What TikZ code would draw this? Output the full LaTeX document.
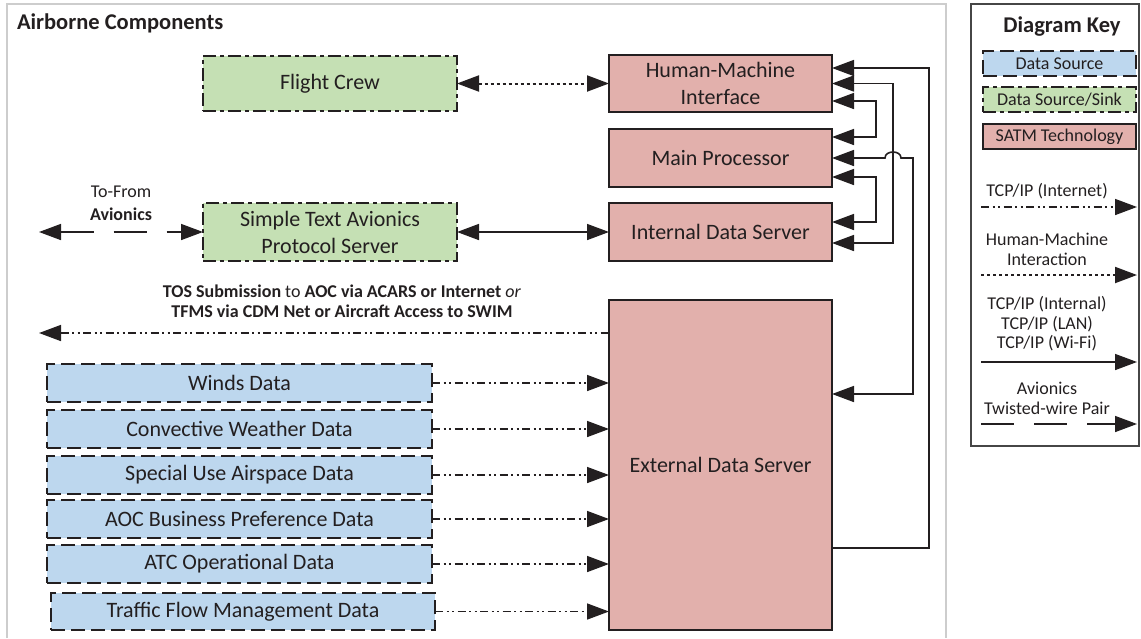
\documentclass[tikz,border=0pt]{standalone}
\usepackage{fontspec}
\setmainfont{Carlito}
\usetikzlibrary{arrows.meta,calc}
\definecolor{srcblue}{RGB}{189,215,238}
\definecolor{sinkgreen}{RGB}{197,224,180}
\definecolor{satmred}{RGB}{226,176,172}
\definecolor{ink}{RGB}{35,31,32}
\definecolor{framegray}{RGB}{205,205,205}
\definecolor{keygray}{RGB}{70,70,70}

\begin{document}
\begin{tikzpicture}[x=1pt,y=-1pt,
  >={Triangle[length=22pt,width=16pt]},
  every node/.style={text=ink, inner sep=0pt, outer sep=0pt},
  big/.style={font=\fontsize{22}{27}\selectfont},
  small/.style={font=\fontsize{18}{20}\selectfont},
  box/.style={draw=ink, line width=2.2pt, align=center, anchor=north west, big},
  satm/.style={box, fill=satmred, line width=2pt},
  srcsink/.style={box, fill=sinkgreen, dash pattern=on 13pt off 4pt on 4pt off 4pt},
  source/.style={box, fill=srcblue, dash pattern=on 14pt off 6pt},
  link/.style={draw=ink, line width=1.6pt},
  inet/.style={link, dash pattern=on 8pt off 3.5pt on 2pt off 3.5pt on 2pt off 3.5pt},
  hmiline/.style={link, line width=2pt, dash pattern=on 3pt off 3pt},
  twisted/.style={link, dash pattern=on 33pt off 20pt},
  keybox/.style={small, line width=1.8pt, minimum width=153pt, minimum height=25pt}
]
\useasboundingbox (0,0) rectangle (1141,638);

% frames
\draw[framegray, line width=1.8pt] (7,638) |- (946,4) -- (946,638);
\draw[keygray, line width=1.4pt] (971,4) rectangle (1139,446);
\node[anchor=west, font=\bfseries\fontsize{22.5}{27}\selectfont] (title) at (17,23) {Airborne Components};
\node[font=\bfseries\fontsize{22.5}{27}\selectfont] (keytitle) at (1062,27) {Diagram Key};

% airborne components
\node[srcsink, minimum width=254pt, minimum height=55pt] (fc) at (203,56) {Flight Crew};
\node[satm, minimum width=223pt, minimum height=57pt] (hmi) at (609,55) {Human-Machine\\Interface};
\node[satm, minimum width=223pt, minimum height=58pt] (mp) at (609,129) {Main Processor};
\node[satm, minimum width=223pt, minimum height=58pt] (ids) at (609,203) {Internal Data Server};
\node[srcsink, minimum width=254pt, minimum height=58pt] (staps) at (203,203) {Simple Text Avionics\\Protocol Server};
\node[satm, minimum width=223pt, minimum height=330pt] (extds) at (609,300) {External Data Server};

\node[source, minimum width=385pt, minimum height=38pt] (winds) at (47,364) {Winds Data};
\node[source, minimum width=385pt, minimum height=38pt] (conv) at (47,410) {Convective Weather Data};
\node[source, minimum width=385pt, minimum height=38pt] (sua) at (47,456) {Special Use Airspace Data};
\node[source, minimum width=385pt, minimum height=38pt] (aoc) at (47,500) {AOC Business Preference Data};
\node[source, minimum width=385pt, minimum height=38pt] (atc) at (47,545) {ATC Operational Data};
\node[source, minimum width=384pt, minimum height=37pt] (tfm) at (51,593) {Traffic Flow Management Data};

% crew and avionics links
\draw[hmiline,<->] (fc.east) -- (hmi.west);
\draw[link,<->] (staps.east) -- (ids.west);
\coordinate (av) at (39,232);
\draw[twisted,<->] (av) -- (staps.west);
\node[small] (avlab1) at (121,192) {To-From};
\node[small, font=\bfseries\fontsize{18}{20}\selectfont] (avlab2) at (121,214) {Avionics};

% TOS submission
\coordinate (tos) at (39,333);
\draw[inet,<-] (tos) -- (extds.west |- tos);
\node[small, align=center, font=\fontsize{18}{20.5}\selectfont] (toslab) at (342,301)
  {\textbf{TOS Submission} to \textbf{AOC via ACARS or Internet} \textit{or}\\
   \textbf{TFMS via CDM Net or Aircraft Access to SWIM}};

% data feeds into the external data server
\foreach \n in {winds,conv,sua,aoc,atc,tfm}
  \draw[inet,->] (\n.east) -- (\n.east -| extds.west);

% internal network on the right
\draw[link,<->] ($(hmi.east)+(0,17.5)$) -- ++(44,0) |- ($(mp.east)+(0,-21)$);
\draw[link,<->] ($(mp.east)+(0,19)$) -- ++(44,0) |- ($(ids.east)+(0,-10)$);
\draw[link,<->] (hmi.east) -- ++(61,0) |- ($(ids.east)+(0,11)$);
\coordinate (hop) at ($(mp.east)+(61,0)$);
\draw[link,<->] (mp.east) -- ($(hop)+(-8,0)$)
  .. controls ($(hop)+(-8,-8)$) and ($(hop)+(8,-8)$) .. ($(hop)+(8,0)$)
  -- ($(hop)+(20,0)$) |- ($(extds.east)+(0,-71)$);
\draw[link,<-] ($(hmi.east)+(0,-15.5)$) -- ++(97,0) |- ($(extds.east)+(0,83)$);

% diagram key
\node[source, keybox] (kds) at (983,51) {Data Source};
\node[srcsink, keybox] (kdss) at (983,87) {Data Source/Sink};
\node[satm, keybox] (ksatm) at (983,124) {SATM Technology};

\node[small] (k1) at (1047,191) {TCP/IP (Internet)};
\coordinate (k1a) at (981,207); \coordinate (k1b) at (1137,207);
\draw[inet,->] (k1a) -- (k1b);

\node[small, align=center] (k2) at (1047,249) {Human-Machine\\Interaction};
\coordinate (k2a) at (981,275); \coordinate (k2b) at (1137,275);
\draw[hmiline,->] (k2a) -- (k2b);

\node[small, align=center, font=\fontsize{18}{19.5}\selectfont] (k3) at (1047,324) {TCP/IP (Internal)\\TCP/IP (LAN)\\TCP/IP (Wi-Fi)};
\coordinate (k3a) at (981,362); \coordinate (k3b) at (1137,362);
\draw[link,->] (k3a) -- (k3b);

\node[small, align=center] (k4) at (1047,398) {Avionics\\Twisted-wire Pair};
\coordinate (k4a) at (981,424); \coordinate (k4b) at (1137,424);
\draw[twisted,->] (k4a) -- (k4b);
\end{tikzpicture}
\end{document}
